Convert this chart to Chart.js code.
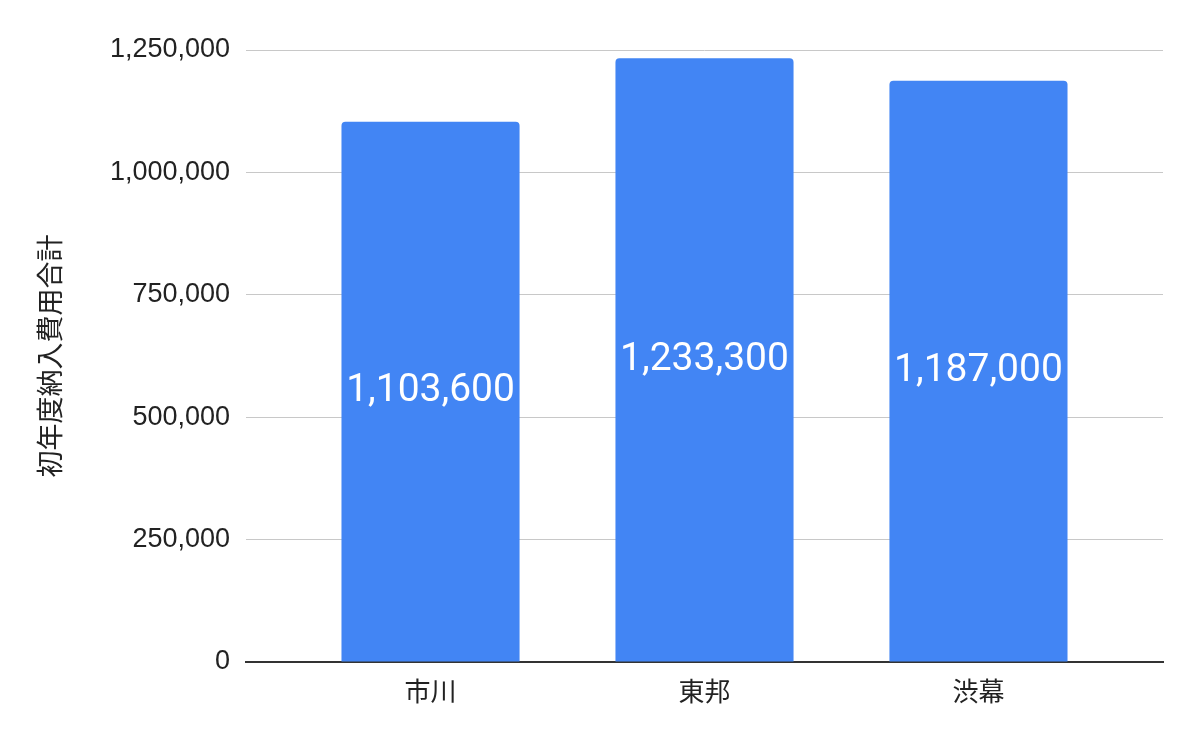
<!DOCTYPE html>
<html>
<head>
<meta charset="utf-8">
<script src="https://cdn.jsdelivr.net/npm/chart.js@4"></script>
<style>
  html, body { margin: 0; padding: 0; background: #fff; }
  #wrap { width: 1200px; height: 742px; }
</style>
</head>
<body>
<div id="wrap"><canvas id="cost"></canvas></div>
<script>
// 学校ごとの初年度納入費用
const schools = ['市川', '東邦', '渋幕'];
const totals = [1103600, 1233300, 1187000];
const yTicks = [0, 250000, 500000, 750000, 1000000, 1250000];

const fontFamily = '"Liberation Sans", Arial, "Noto Sans CJK JP", sans-serif';

// 棒の中に値を書く
const barLabels = {
	id: 'barLabels',
	afterDatasetsDraw(chart) {
		const { ctx } = chart;
		const meta = chart.getDatasetMeta(0);
		ctx.save();
		ctx.fillStyle = '#ffffff';
		ctx.font = '39px Roboto, "Liberation Sans", sans-serif';
		ctx.textAlign = 'center';
		ctx.textBaseline = 'middle';
		meta.data.forEach((bar, i) => {
			const mid = (bar.y + bar.base) / 2;
			ctx.fillText(totals[i].toLocaleString('en-US'), bar.x, mid);
		});
		ctx.restore();
	},
};

new Chart(document.getElementById('cost'), {
	type: 'bar',
	data: {
		labels: schools,
		datasets: [
			{
				label: '初年度納入費用合計',
				data: totals,
				backgroundColor: '#4285f4',
				borderRadius: { topLeft: 4, topRight: 4 },
				borderSkipped: false,
				categoryPercentage: 1,
				barPercentage: 0.65,
			},
		],
	},
	plugins: [barLabels],
	options: {
		responsive: true,
		maintainAspectRatio: false,
		animation: false,
		layout: { padding: { top: 50, right: 37, bottom: 0, left: 34 } },
		plugins: {
			legend: { display: false },
			tooltip: { enabled: false },
		},
		scales: {
			x: {
				grid: { display: false },
				border: { color: '#333333', width: 2 },
				ticks: { color: '#222', font: { family: fontFamily, size: 26 }, padding: 8 },
				// 両端に余白を入れてカテゴリを中央に寄せる
				afterBuildTicks: (scale) => {
					scale._startValue = -0.5 - 0.1735;
					scale._valueRange = 3.347;
				},
				afterFit: (scale) => { scale.height = 80; },
			},
			y: {
				min: 0,
				max: 1250000,
				afterBuildTicks: (scale) => { scale.ticks = yTicks.map((v) => ({ value: v })); },
				grid: { color: '#c8c8c8', lineWidth: 1, drawTicks: true, tickLength: 14, tickColor: '#ffffff' },
				border: { display: false },
				ticks: {
					color: '#222',
					font: { family: fontFamily, size: 27 },
					padding: 2,
					callback: (v) => v.toLocaleString('en-US'),
				},
				title: {
					display: true,
					text: '初年度納入費用合計',
					color: '#222',
					font: { family: '"Noto Sans CJK JP", sans-serif', size: 27 },
					padding: 0,
				},
				afterFit: (scale) => { scale.width = 212; },
			},
		},
	},
});
</script>
</body>
</html>
